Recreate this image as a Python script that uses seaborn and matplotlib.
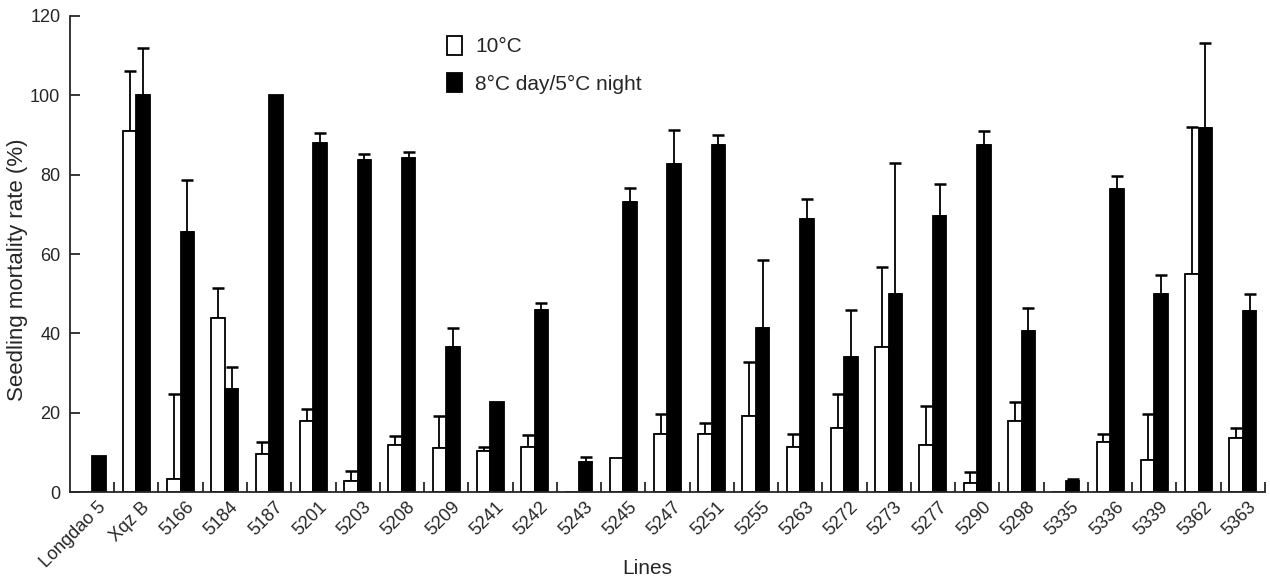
import numpy as np
import pandas as pd
import matplotlib
matplotlib.use("Agg")
import matplotlib.pyplot as plt
import matplotlib.transforms as mtransforms
import seaborn as sns
from matplotlib.patches import Patch

lines = ["Longdao 5", "Xqz B", "5166", "5184", "5187", "5201", "5203", "5208",
         "5209", "5241", "5242", "5243", "5245", "5247", "5251", "5255", "5263",
         "5272", "5273", "5277", "5290", "5298", "5335", "5336", "5339", "5362", "5363"]
mort_10c = [0, 91.1, 3.3, 43.9, 9.7, 17.9, 2.8, 11.9, 11.0, 10.4, 11.3, 0, 8.7, 14.6,
            14.6, 19.1, 11.3, 16.1, 36.5, 11.9, 2.3, 17.8, 0, 12.6, 8.2, 55.0, 13.5]
sd_10c = [0, 15.0, 21.5, 7.5, 2.9, 3.1, 2.4, 2.2, 8.1, 1.0, 3.1, 0, 0, 5.0,
          2.8, 13.7, 3.3, 8.7, 20.3, 9.7, 2.7, 4.9, 0, 2.0, 11.4, 37.1, 2.6]
mort_8c5c = [9.0, 100, 65.6, 26.0, 100, 87.9, 83.8, 84.3, 36.6, 22.6, 45.9, 7.6, 73.2, 82.6,
             87.6, 41.4, 68.8, 34.0, 49.8, 69.7, 87.6, 40.6, 2.8, 76.3, 49.8, 91.8, 45.6]
sd_8c5c = [0, 11.9, 13.1, 5.4, 0, 2.5, 1.3, 1.4, 4.7, 0, 1.7, 1.2, 3.4, 8.6,
           2.4, 17.0, 5.0, 11.9, 33.1, 8.0, 3.3, 5.8, 0.6, 3.4, 4.9, 21.5, 4.2]
treatments = ["10°C", "8°C day/5°C night"]
y_ticks = [0, 20, 40, 60, 80, 100, 120]

sns.set_style("ticks")
plt.rcParams['font.family'] = ['Liberation Sans', 'DejaVu Sans']

df = pd.DataFrame({
    "Line": lines * 2,
    "Treatment": [treatments[0]] * len(lines) + [treatments[1]] * len(lines),
    "Mortality": mort_10c + mort_8c5c,
})

fig = plt.figure(figsize=(12.7, 5.83), dpi=100)
ax = fig.add_axes([0.0551, 0.156, 0.9409, 0.8166])

sns.barplot(data=df, x="Line", y="Mortality", hue="Treatment", order=lines,
            hue_order=treatments, palette=["white", "black"], edgecolor="black",
            linewidth=1.3, width=0.61, errorbar=None, legend=False, ax=ax, zorder=2)

for cont, sds in zip(ax.containers, [sd_10c, sd_8c5c]):
    for bar, sd in zip(cont, sds):
        if sd <= 0:
            continue
        xc = bar.get_x() + bar.get_width() / 2
        h = bar.get_height()
        ax.errorbar([xc], [h], yerr=[[0], [sd]], fmt="none", ecolor="black",
                    elinewidth=1.3, capsize=4.2, capthick=1.8, zorder=1)

ax.set_xlim(-0.5, len(lines) - 0.5)
ax.set_ylim(0, 120)
ax.set_yticks(y_ticks)
ax.set_xticks(np.arange(len(lines)))
ax.set_xticklabels(lines, rotation=45, ha="right", va="center", rotation_mode="anchor",
                   fontsize=13)
ax.set_xticks(np.arange(0.5, len(lines), 1), minor=True)
ax.tick_params(axis="x", which="major", length=0, pad=9)
ax.tick_params(axis="x", which="minor", direction="in", length=7, width=1.3)
ax.tick_params(axis="y", direction="in", length=7, width=1.3, labelsize=13, pad=7)
for s in ["left", "bottom"]:
    ax.spines[s].set_linewidth(1.3)
sns.despine(ax=ax)

offset = mtransforms.ScaledTranslation(0.11, 0, fig.dpi_scale_trans)
for lbl in ax.get_xticklabels():
    lbl.set_transform(lbl.get_transform() + offset)

ax.set_ylabel("Seedling mortality rate (%)", fontsize=16)
ax.yaxis.set_label_coords(-0.035, 0.466)
ax.set_xlabel("Lines", fontsize=15)
ax.xaxis.set_label_coords(0.483, -0.14)

handles = [Patch(facecolor="white", edgecolor="black", linewidth=1.3),
           Patch(facecolor="black", edgecolor="black", linewidth=1.3)]
ax.legend(handles, treatments, loc="upper left", bbox_to_anchor=(0.3155, 0.958),
          frameon=False, fontsize=15, handlelength=0.72, handleheight=1.0,
          labelspacing=0.8, handletextpad=0.62, borderaxespad=0, borderpad=0)

fig.savefig("out.png", dpi=100)
